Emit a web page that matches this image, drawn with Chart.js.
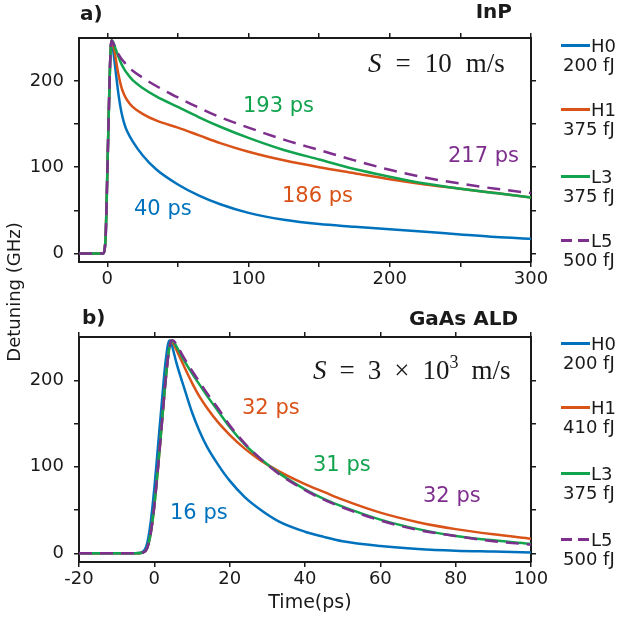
<!DOCTYPE html>
<html>
<head>
<meta charset="utf-8">
<script src="https://cdn.jsdelivr.net/npm/chart.js@4.4.1/dist/chart.umd.min.js"></script>
<style>
  body { margin: 0; background: #fff; }
  #wrap { position: relative; width: 626px; height: 620px; overflow: hidden; font-family: 'DejaVu Sans', sans-serif; color: #1a1a1a; }
  canvas { position: absolute; left: 0; }
  #chartA { top: 0; }
  #chartB { top: 300px; }
  .txt { position: absolute; white-space: nowrap; line-height: 1; }
  .title { font-weight: bold; font-size: 20px; }
  .note { font-size: 21px; }
  .math { font-family: 'Liberation Serif', serif; font-size: 27px; line-height: 1; }
  .sp { display: inline-block; width: 14px; }
  .sp2 { display: inline-block; width: 13px; }
  .leg { position: absolute; font-size: 18px; line-height: 19px; white-space: nowrap; }
  .seg { position: absolute; width: 29px; height: 3px; }
</style>
</head>
<body>
<div id="wrap">
  <canvas id="chartA" width="626" height="300"></canvas>
  <canvas id="chartB" width="626" height="320"></canvas>

  <div class="txt title" style="left:80px; top:3px;">a)</div>
  <div class="txt title" style="right:114px; top:1px;">InP</div>
  <div class="txt title" style="left:82px; top:307px;">b)</div>
  <div class="txt title" style="right:108px; top:308px;">GaAs ALD</div>

  <div class="txt math" style="left:368px; top:50px;"><i>S</i><span class="sp"></span>=<span class="sp"></span>10<span class="sp"></span>m/s</div>
  <div class="txt math" style="left:313px; top:357px;"><i>S</i><span class="sp2"></span>=<span class="sp2"></span>3<span class="sp2"></span>×<span class="sp2"></span>10<span style="font-size:18px; position:relative; top:-11px;">3</span><span class="sp2"></span>m/s</div>

  <div class="txt" style="left:-86px; top:282px; width:200px; text-align:center; font-size:18px; line-height:20px; transform:rotate(-90deg);">Detuning (GHz)</div>
  <div class="txt" style="left:210px; top:592px; width:200px; text-align:center; font-size:19px;">Time(ps)</div>
</div>

<script>
// series names and labels
const seriesNames = ['H0', 'H1', 'L3', 'L5'];
const energiesA = ['200 fJ', '375 fJ', '375 fJ', '500 fJ'];
const energiesB = ['200 fJ', '410 fJ', '375 fJ', '500 fJ'];
const decaysA = ['40 ps', '186 ps', '193 ps', '217 ps'];
const decaysB = ['16 ps', '32 ps', '31 ps', '32 ps'];

// panel a) InP, time in ps, detuning in GHz
const timeA = [-20, -10, -5, -3, -2, -1, 0, 1, 2, 3, 4, 5, 6, 8, 10, 12, 14, 18, 25, 35, 50, 65, 80, 100, 125, 150, 175, 200, 225, 250, 275, 300];
const h0A = [0, 0, 0, 0, 3, 25, 90, 158, 220, 247, 238, 225, 211, 184, 164, 151, 142, 130, 114, 97, 80, 67, 57, 47, 39, 34, 31, 28, 25, 22, 19, 17];
const h1A = [0, 0, 0, 0, 3, 25, 90, 158, 220, 247, 243, 236, 226, 207, 193, 184, 178, 170, 162, 154, 146, 137, 128, 118, 108, 100, 93, 86, 80, 75, 70, 65];
const l3A = [0, 0, 0, 0, 3, 25, 90, 158, 220, 247, 246, 242, 237, 228, 220, 214, 209, 201, 192, 182, 170, 158, 147, 134, 120, 109, 98, 89, 81, 75, 70, 65];
const l5A = [0, 0, 0, 0, 3, 25, 90, 158, 220, 247, 245, 241, 237, 231, 226, 222, 218, 212, 204, 194, 181, 169, 158, 146, 132, 120, 108, 97, 88, 81, 75, 70];

// panel b) GaAs ALD
const timeB = [-20, -10, -5, -3, -2, -1, 0, 1, 2, 3, 4, 4.5, 5, 6, 8, 10, 12, 14, 17, 20, 24, 28, 33, 40, 45, 50, 60, 70, 80, 90, 100];
const h0B = [0, 0, 0, 2, 10, 35, 75, 125, 175, 222, 246, 243, 235, 218, 190, 163, 141, 123, 102, 84, 65, 51, 37, 25, 19, 14, 8.5, 5, 3, 2, 1];
const h1B = [0, 0, 0, 1, 5, 22, 55, 100, 150, 200, 238, 246, 243, 234, 215, 197, 181, 168, 151, 137, 121, 108, 95, 80, 71, 62, 47, 36, 28, 22, 17];
const l3B = [0, 0, 0, 1, 5, 22, 55, 100, 150, 200, 238, 246, 245, 238, 222, 208, 195, 182, 164, 146, 126, 110, 93, 74, 63, 54, 39, 28, 20, 15, 11];
const l5B = [0, 0, 0, 1, 5, 22, 55, 100, 150, 200, 238, 246, 246, 240, 225, 211, 198, 185, 167, 148, 127, 110, 92, 73, 62, 53, 38, 27, 20, 14, 10];

// ticks
const xTicksA = [0, 50, 100, 150, 200, 250, 300];
const xLabelsA = [0, 100, 200, 300];
const xTicksB = [-20, 0, 20, 40, 60, 80, 100];
const xLabelsB = [-20, 0, 20, 40, 60, 80, 100];
const yTicks = [0, 50, 100, 150, 200];
const yLabels = [0, 100, 200];

const colors = ['#0072BD', '#D95319', '#12A34E', '#7E2F8E'];
const ink = '#1a1a1a';

Chart.defaults.font.family = 'DejaVu Sans';
Chart.defaults.font.size = 18;
Chart.defaults.color = ink;

// axis helper
function makeAxis(position, ticks, labels, min, max, size, showLabels) {
  const horizontal = position === 'top' || position === 'bottom';
  return {
    type: 'linear',
    position: position,
    min: min,
    max: max,
    afterBuildTicks: s => { s.ticks = ticks.map(v => ({ value: v })); },
    afterFit: s => { if (horizontal) s.height = size; else s.width = size; },
    ticks: {
      display: showLabels,
      padding: horizontal ? 2 : 10,
      maxRotation: 0,
      autoSkip: false,
      callback: v => labels.includes(v) ? String(v) : ''
    },
    grid: { display: true, drawOnChartArea: false, drawTicks: true, tickLength: 5, color: ink, lineWidth: 1.5 },
    border: { display: true, color: ink, width: 2 }
  };
}

// build one panel
function buildPanel(id, time, values, xTicks, xLabels, xMin, xMax, padTop, xHeight) {
  const datasets = values.map((arr, i) => ({
    label: seriesNames[i],
    data: arr.map((v, k) => ({ x: time[k], y: v })),
    borderColor: colors[i],
    borderWidth: 2.5,
    borderDash: i === 3 ? [13, 8] : [],
    pointRadius: 0,
    cubicInterpolationMode: 'monotone',
    fill: false,
    order: 4 - i
  }));

  new Chart(document.getElementById(id).getContext('2d'), {
    type: 'line',
    data: { datasets: datasets },
    options: {
      responsive: false,
      animation: false,
      layout: { padding: { top: padTop, left: 0, right: 90, bottom: 0 } },
      scales: {
        x: makeAxis('bottom', xTicks, xLabels, xMin, xMax, xHeight, true),
        x2: makeAxis('top', xTicks, xLabels, xMin, xMax, 5, false),
        y: makeAxis('left', yTicks, yLabels, -10, 250, 79, true),
        y2: makeAxis('right', yTicks, yLabels, -10, 250, 5, false)
      },
      plugins: { legend: { display: false }, tooltip: { enabled: false } }
    }
  });
}

// legend on the right side
function addLegend(energies, rows) {
  const wrap = document.getElementById('wrap');
  rows.forEach((y, i) => {
    const seg = document.createElement('div');
    seg.className = 'seg';
    seg.style.left = '561px';
    seg.style.top = (y - 1) + 'px';
    seg.style.background = i === 3
      ? `repeating-linear-gradient(90deg, ${colors[i]} 0 11px, transparent 11px 17px)`
      : colors[i];
    wrap.appendChild(seg);

    const name = document.createElement('div');
    name.className = 'leg';
    name.style.left = '591px';
    name.style.top = (y - 9) + 'px';
    name.innerText = seriesNames[i];
    wrap.appendChild(name);

    const en = document.createElement('div');
    en.className = 'leg';
    en.style.left = '563px';
    en.style.top = (y + 10) + 'px';
    en.innerText = energies[i];
    wrap.appendChild(en);
  });
}

// decay time notes
function addNotes(labels, spots) {
  const wrap = document.getElementById('wrap');
  labels.forEach((t, i) => {
    const d = document.createElement('div');
    d.className = 'txt note';
    d.style.left = spots[i][0] + 'px';
    d.style.top = spots[i][1] + 'px';
    d.style.color = colors[i];
    d.innerText = t;
    wrap.appendChild(d);
  });
}

buildPanel('chartA', timeA, [h0A, h1A, l3A, l5A], xTicksA, xLabelsA, -20, 300, 33, 38);
buildPanel('chartB', timeB, [h0B, h1B, l3B, l5B], xTicksB, xLabelsB, -20, 100, 32, 58);

addLegend(energiesA, [45, 109, 176, 240]);
addLegend(energiesB, [343, 407, 473, 539]);

addNotes(decaysA, [[134, 198], [282, 185], [243, 95], [448, 145]]);
addNotes(decaysB, [[170, 502], [242, 397], [313, 454], [423, 485]]);
</script>
</body>
</html>
